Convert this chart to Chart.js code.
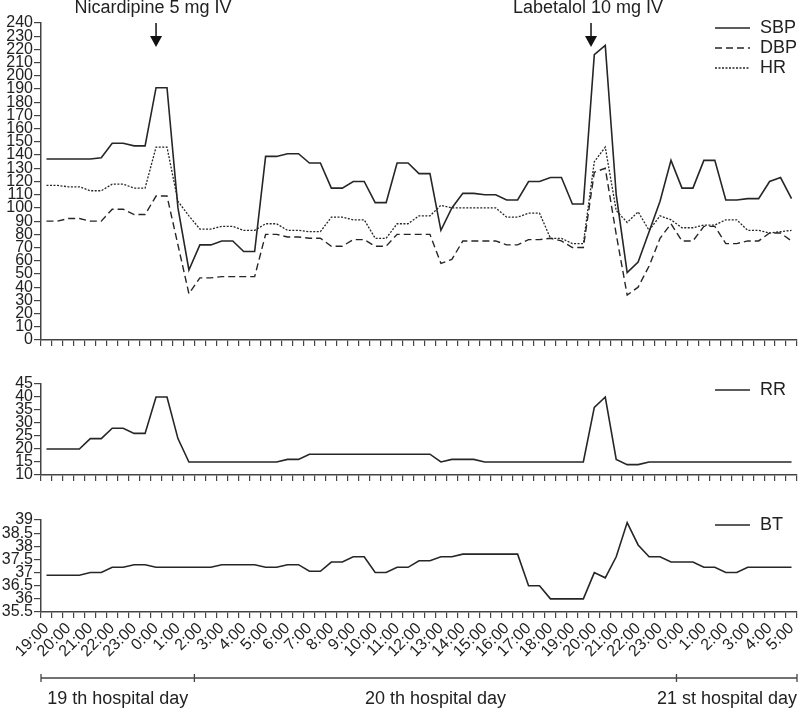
<!DOCTYPE html>
<html>
<head>
<meta charset="utf-8">
<script src="https://cdn.jsdelivr.net/npm/chart.js@4"></script>
<style>
  body { margin: 0; background: #fff; }
  #wrap { position: relative; width: 798px; height: 708px; }
  canvas { position: absolute; left: 0; }
</style>
</head>
<body>
<div id="wrap">
  <canvas id="bpChart" width="798" height="360" style="top:0"></canvas>
  <canvas id="rrChart" width="798" height="140" style="top:360px"></canvas>
  <canvas id="btChart" width="798" height="208" style="top:500px"></canvas>
</div>
<script>
// hourly labels, readings are taken every 30 minutes
const hourLabels = [
  "19:00", "20:00", "21:00", "22:00", "23:00",
  "0:00", "1:00", "2:00", "3:00", "4:00", "5:00", "6:00", "7:00", "8:00",
  "9:00", "10:00", "11:00", "12:00", "13:00", "14:00", "15:00", "16:00",
  "17:00", "18:00", "19:00", "20:00", "21:00", "22:00", "23:00",
  "0:00", "1:00", "2:00", "3:00", "4:00", "5:00"
];

const sbp = [
  137, 137, 137, 137, 137, 138, 149, 149, 147, 147,
  191, 191, 100, 53, 72, 72, 75, 75, 67, 67,
  139, 139, 141, 141, 134, 134, 115, 115, 120, 120,
  104, 104, 134, 134, 126, 126, 83, 100, 111, 111,
  110, 110, 106, 106, 120, 120, 123, 123, 103, 103,
  216, 223, 110, 51, 59, 82, 105, 136, 115, 115,
  136, 136, 106, 106, 107, 107, 120, 123, 107
];

const dbp = [
  90, 90, 92, 92, 90, 90, 99, 99, 95, 95,
  109, 109, 72, 35, 47, 47, 48, 48, 48, 48,
  80, 80, 78, 78, 77, 77, 71, 71, 76, 76,
  71, 71, 80, 80, 80, 80, 58, 61, 75, 75,
  75, 75, 72, 72, 76, 76, 77, 75, 70, 70,
  127, 130, 80, 34, 40, 56, 77, 88, 75, 75,
  86, 86, 73, 73, 75, 75, 81, 81, 75
];

const hr = [
  117, 117, 116, 116, 113, 113, 118, 118, 115, 115,
  146, 146, 105, 94, 84, 84, 86, 86, 83, 83,
  88, 88, 83, 83, 82, 82, 93, 93, 91, 91,
  77, 77, 88, 88, 94, 94, 102, 100, 100, 100,
  100, 100, 93, 93, 96, 96, 77, 77, 73, 73,
  135, 146, 98, 89, 97, 83, 94, 91, 85, 85,
  87, 87, 91, 91, 83, 83, 81, 82, 83
];

const rr = [
  20, 20, 20, 20, 24, 24, 28, 28, 26, 26,
  40, 40, 24, 15, 15, 15, 15, 15, 15, 15,
  15, 15, 16, 16, 18, 18, 18, 18, 18, 18,
  18, 18, 18, 18, 18, 18, 15, 16, 16, 16,
  15, 15, 15, 15, 15, 15, 15, 15, 15, 15,
  36, 40, 16, 14, 14, 15, 15, 15, 15, 15,
  15, 15, 15, 15, 15, 15, 15, 15, 15
];

const bt = [
  36.9, 36.9, 36.9, 36.9, 37.0, 37.0, 37.2, 37.2, 37.3, 37.3,
  37.2, 37.2, 37.2, 37.2, 37.2, 37.2, 37.3, 37.3, 37.3, 37.3,
  37.2, 37.2, 37.3, 37.3, 37.05, 37.05, 37.4, 37.4, 37.6, 37.6,
  37.0, 37.0, 37.2, 37.2, 37.45, 37.45, 37.6, 37.6, 37.7, 37.7,
  37.7, 37.7, 37.7, 37.7, 36.5, 36.5, 36.0, 36.0, 36.0, 36.0,
  37.0, 36.8, 37.6, 38.9, 38.05, 37.6, 37.6, 37.4, 37.4, 37.4,
  37.2, 37.2, 37.0, 37.0, 37.2, 37.2, 37.2, 37.2, 37.2
];

const doseLabels = ["Nicardipine 5 mg IV", "Labetalol 10 mg IV"];
const doseIndex = [10, 49.7];

const dayNames = ["19 th hospital day", "20 th hospital day", "21 st hospital day"];
const dayEdges = [0, 14, 58, 69];

const lineColor = "#262626";
const axisColor = "#444";
const textColor = "#222";
const bigFont = "18px 'Liberation Sans', Arial, sans-serif";

Chart.defaults.font.family = "'Liberation Sans', Arial, sans-serif";
Chart.defaults.font.size = 16;
Chart.defaults.color = textColor;

// one category per half hour, labels only on the hour
const categories = [];
hourLabels.forEach((label, i) => {
  categories.push(label);
  if (i < hourLabels.length - 1) {
    categories.push("");
  }
});

function series(label, data, dash, width) {
  return {
    label,
    data,
    borderColor: lineColor,
    borderWidth: width,
    borderDash: dash,
    pointRadius: 0,
    tension: 0,
    fill: false
  };
}

const panelLegend = {
  id: "panelLegend",
  afterDraw(chart, args, opts) {
    const ctx = chart.ctx;
    ctx.save();
    chart.data.datasets.forEach((ds, i) => {
      const y = opts.top + i * 20;
      ctx.strokeStyle = ds.borderColor;
      ctx.lineWidth = ds.borderWidth;
      ctx.setLineDash(ds.borderDash || []);
      ctx.beginPath();
      ctx.moveTo(715, y);
      ctx.lineTo(750, y);
      ctx.stroke();
      ctx.setLineDash([]);
      ctx.fillStyle = textColor;
      ctx.font = bigFont;
      ctx.textBaseline = "middle";
      ctx.textAlign = "left";
      ctx.fillText(ds.label, 760, y);
    });
    ctx.restore();
  }
};

const doseArrows = {
  id: "doseArrows",
  afterDraw(chart) {
    const ctx = chart.ctx;
    const xScale = chart.scales.x;
    ctx.save();
    doseLabels.forEach((label, i) => {
      const x = xScale.getPixelForValue(doseIndex[i]);
      ctx.fillStyle = textColor;
      ctx.font = bigFont;
      ctx.textAlign = "center";
      ctx.textBaseline = "middle";
      ctx.fillText(label, x - 3, 8);

      ctx.strokeStyle = "#111";
      ctx.lineWidth = 1.5;
      ctx.beginPath();
      ctx.moveTo(x, 23);
      ctx.lineTo(x, 38);
      ctx.stroke();
      ctx.fillStyle = "#111";
      ctx.beginPath();
      ctx.moveTo(x - 6, 36);
      ctx.lineTo(x + 6, 36);
      ctx.lineTo(x, 47);
      ctx.closePath();
      ctx.fill();
    });
    ctx.restore();
  }
};

const dayBrackets = {
  id: "dayBrackets",
  afterDraw(chart) {
    const ctx = chart.ctx;
    const xScale = chart.scales.x;
    const edges = dayEdges.map((e) => xScale.getPixelForValue(e - 0.5));
    const lineY = 178;
    ctx.save();
    ctx.strokeStyle = axisColor;
    ctx.lineWidth = 1.3;
    ctx.beginPath();
    ctx.moveTo(edges[0], lineY);
    ctx.lineTo(edges[edges.length - 1], lineY);
    edges.forEach((x) => {
      ctx.moveTo(x, lineY - 4);
      ctx.lineTo(x, lineY + 4);
    });
    ctx.stroke();

    ctx.fillStyle = textColor;
    ctx.font = bigFont;
    ctx.textAlign = "center";
    ctx.textBaseline = "middle";
    dayNames.forEach((name, i) => {
      const w = ctx.measureText(name).width;
      let cx = (edges[i] + edges[i + 1]) / 2;
      cx = Math.min(cx, chart.width - 1 - w / 2);
      ctx.fillText(name, cx, 199);
    });
    ctx.restore();
  }
};

function panelOptions(cfg) {
  return {
    responsive: false,
    animation: false,
    events: [],
    layout: { padding: { top: cfg.padTop, right: 1, left: 0, bottom: 0 } },
    plugins: {
      legend: { display: false },
      tooltip: { enabled: false },
      panelLegend: { top: cfg.legendTop }
    },
    scales: {
      x: {
        type: "category",
        offset: true,
        grid: {
          offset: true,
          drawOnChartArea: false,
          tickLength: 6,
          color: axisColor,
          lineWidth: 1.2
        },
        border: { color: axisColor, width: 1.5 },
        ticks: {
          display: cfg.showLabels,
          autoSkip: false,
          minRotation: 45,
          maxRotation: 45,
          padding: 1
        },
        afterFit(scale) {
          scale.height = cfg.xHeight;
          scale.paddingLeft = 0;
          scale.paddingRight = 0;
        }
      },
      y: {
        min: cfg.min,
        max: cfg.max,
        grid: {
          drawOnChartArea: false,
          tickLength: 7,
          color: axisColor,
          lineWidth: 1.2
        },
        border: { color: axisColor, width: 1.5 },
        ticks: {
          stepSize: cfg.step,
          autoSkip: false,
          padding: 1,
          callback: (value) => String(value)
        },
        afterFit(scale) {
          scale.width = 41;
        }
      }
    }
  };
}

new Chart(document.getElementById("bpChart"), {
  type: "line",
  data: {
    labels: categories,
    datasets: [
      series("SBP", sbp, [], 1.6),
      series("DBP", dbp, [7, 4], 1.4),
      series("HR", hr, [2, 1.5], 1.3)
    ]
  },
  options: panelOptions({
    min: 0, max: 240, step: 10,
    padTop: 23, xHeight: 20, showLabels: false, legendTop: 28
  }),
  plugins: [panelLegend, doseArrows]
});

new Chart(document.getElementById("rrChart"), {
  type: "line",
  data: {
    labels: categories,
    datasets: [series("RR", rr, [], 1.6)]
  },
  options: panelOptions({
    min: 10, max: 45, step: 5,
    padTop: 24, xHeight: 25, showLabels: false, legendTop: 30
  }),
  plugins: [panelLegend]
});

new Chart(document.getElementById("btChart"), {
  type: "line",
  data: {
    labels: categories,
    datasets: [series("BT", bt, [], 1.6)]
  },
  options: panelOptions({
    min: 35.5, max: 39, step: 0.5,
    padTop: 20, xHeight: 96, showLabels: true, legendTop: 25
  }),
  plugins: [panelLegend, dayBrackets]
});
</script>
</body>
</html>
